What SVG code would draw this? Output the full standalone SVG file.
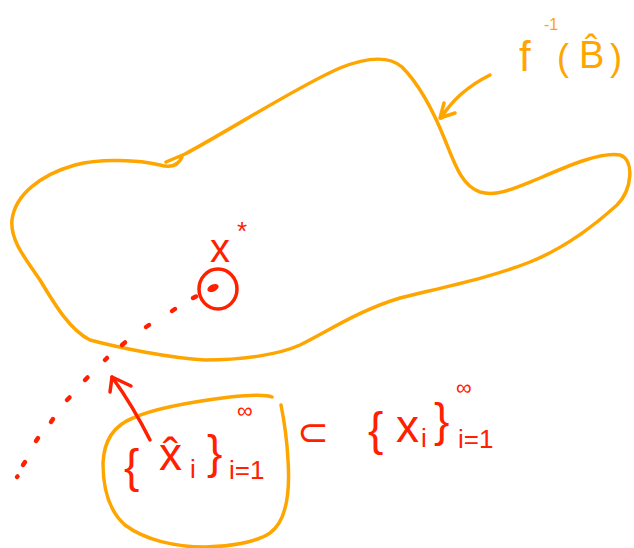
<svg xmlns="http://www.w3.org/2000/svg" width="634" height="548" viewBox="0 0 634 548">
<style>
.o{fill:none;stroke:#FFA500;stroke-width:3.5;stroke-linecap:round;stroke-linejoin:round}
.r{fill:none;stroke:#FF2000;stroke-width:3.5;stroke-linecap:round;stroke-linejoin:round}
.d{fill:none;stroke:#FF2000;stroke-width:4.5;stroke-linecap:round}
.to{fill:#FFA500;font-family:"Liberation Sans","DejaVu Sans",sans-serif}
.tr{fill:#FF2000;font-family:"Liberation Sans","DejaVu Sans",sans-serif}
</style>
<rect width="634" height="548" fill="#fff"/>
<g id="preimage-set">
<path class="o" d="M166,162 L185,154 C230,130 300,85 340,68 C365,58 388,55 402,67 C420,85 435,115 445,140 C455,165 462,186 480,192 C497,197 515,188 540,178 C570,165 600,152 620,155 C635,160 632,190 617,205 C595,225 565,248 530,262 C490,278 440,288 400,298 C360,310 330,330 300,345 C280,354 245,360 205,360 C170,358 120,348 90,340 C70,330 55,305 40,280 C25,258 10,240 12,220 C15,195 40,175 75,165 C100,158 140,160 160,165 C170,168 178,166 182,157"/>
</g>
<g id="label-preimage">
<text class="to" x="519" y="71" font-size="42">f</text>
<text class="to" x="544" y="30" font-size="16">-1</text>
<text class="to" x="557" y="70" font-size="36">(</text>
<text class="to" x="579" y="68" font-size="38">B̂</text>
<text class="to" x="610" y="70" font-size="36">)</text>
</g>
<g id="point-xstar">
<ellipse class="r" cx="218" cy="289" rx="19" ry="20"/>
<ellipse cx="213" cy="288" rx="6" ry="3.5" fill="#FF2000" transform="rotate(-25 213 288)"/>
<text class="tr" x="210" y="262" font-size="40">x</text>
<text class="tr" x="237" y="240" font-size="26">*</text>
</g>
<g id="subset-set">
<path class="o" d="M281,405 C284,420 287,440 288,460 C290,490 288,520 270,533 C255,543 225,547 205,547 C175,547 145,540 125,525 C108,510 103,485 103,463 C104,440 115,425 133,418 C155,408 190,402 230,397 C250,395 265,394 272,397"/>
<text class="tr" x="124" y="482" font-size="46">{</text>
<text class="tr" x="159" y="470" font-size="46">x̂</text>
<text class="tr" x="190" y="478" font-size="26">i</text>
<text class="tr" x="207" y="468" font-size="46">}</text>
<text class="tr" x="237" y="418" font-size="22">∞</text>
<text class="tr" x="229" y="479" font-size="26">i=1</text>
</g>
<g id="label-sequence">
<text class="tr" x="297" y="445" font-size="38">⊂</text>
<text class="tr" x="368" y="445" font-size="46">{</text>
<text class="tr" x="396" y="442" font-size="46">x</text>
<text class="tr" x="421" y="447" font-size="26">i</text>
<text class="tr" x="434" y="436" font-size="46">}</text>
<text class="tr" x="456" y="395" font-size="22">∞</text>
<text class="tr" x="458" y="448" font-size="26">i=1</text>
</g>
<g id="connectors">
<path class="o" d="M490,75 C470,85 452,100 441,118"/>
<path class="o" d="M444,103 L440,118 L455,113"/>
<path class="r" d="M150,440 C140,420 125,395 112,377"/>
<path class="r" d="M110,392 L112,377 L131,386"/>
<path class="d" d="M193,298 l3,-1.5 M172,311 l3,-2 M146,327 l3,-2 M122,345 l3,-2.5 M105,360 l2,-2 M85,380 l2.5,-2.5 M67,400 l2.5,-2.5 M51,422 l2,-3 M36,441 l2,-3 M23,465 l2,-3 M17,477 l0.5,-0.5"/>
</g>
</svg>
